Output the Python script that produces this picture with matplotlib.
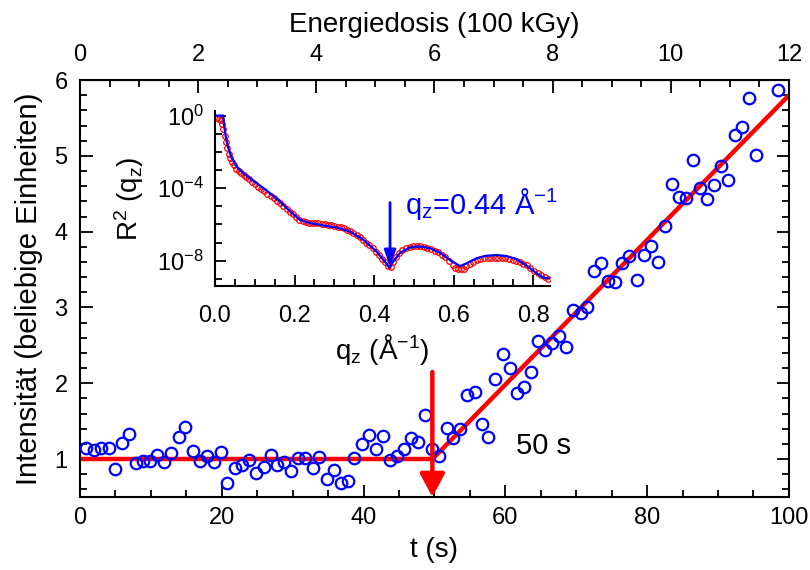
import numpy as np
import matplotlib.pyplot as plt
from matplotlib.ticker import MultipleLocator, FixedLocator, NullFormatter, LogFormatterSciNotation

plt.rcParams['font.family'] = ['Liberation Sans', 'DejaVu Sans']
plt.rcParams['mathtext.default'] = 'regular'

#%% Messdaten Intensitaet ueber Zeit
t_s = [0.85, 1.97, 2.96, 4.04, 4.94, 5.92, 6.9, 7.9, 8.9, 9.87,
       10.9, 11.9, 12.9, 13.9, 14.85, 15.9, 16.9, 17.9, 18.85, 19.85,
       20.8, 21.8, 22.85, 23.9, 24.8, 25.9, 26.9, 27.8, 28.8, 29.8,
       30.8, 31.8, 32.8, 33.75, 34.8, 35.8, 36.8, 37.75, 38.7, 39.8,
       40.7, 41.7, 42.7, 43.7, 44.7, 45.7, 46.7, 47.7, 48.7, 49.7,
       50.7, 51.7, 52.65, 53.6, 54.6, 55.7, 56.65, 57.6, 58.6, 59.7,
       60.65, 61.6, 62.6, 63.6, 64.6, 65.6, 66.6, 67.6, 68.6, 69.6,
       70.6, 71.55, 72.5, 73.5, 74.5, 75.5, 76.5, 77.5, 78.5, 79.5,
       80.5, 81.5, 82.5, 83.5, 84.5, 85.5, 86.5, 87.4, 88.4, 89.4,
       90.45, 91.4, 92.4, 93.4, 94.4, 95.4, 98.4]
intens = [1.145, 1.115, 1.145, 1.145, 0.864, 1.21, 1.326, 0.952, 0.98, 0.97,
          1.06, 0.956, 1.08, 1.287, 1.42, 1.11, 0.97, 1.04, 0.956, 1.10,
          0.68, 0.886, 0.917, 0.983, 0.815, 0.895, 1.06, 0.925, 0.956, 0.84,
          1.013, 1.013, 0.877, 1.026, 0.736, 0.86, 0.69, 0.71, 1.013, 1.2,
          1.313, 1.137, 1.30, 0.983, 1.036, 1.14, 1.275, 1.225, 1.585, 1.128,
          1.036, 1.41, 1.28, 1.40, 1.85, 1.88, 1.46, 1.29, 2.06, 2.38,
          2.20, 1.87, 1.95, 2.145, 2.555, 2.435, 2.53, 2.62, 2.48, 2.97,
          2.93, 3.0, 3.475, 3.59, 3.35, 3.33, 3.59, 3.685, 3.365, 3.69,
          3.805, 3.60, 4.08, 4.63, 4.46, 4.45, 4.94, 4.57, 4.43, 4.61,
          4.87, 4.685, 5.28, 5.385, 5.76, 5.016, 5.87]

# Fit: konstant bis zum Knick, danach linear
t_break = 49.7
I_base = 1.0
t_end = 100
I_end = 5.8
arrow_top = 2.15
dose_per_s = 0.12  # 100 kGy pro s
dose_ticks = [0, 2, 4, 6, 8, 10, 12]

#%% Reflektivitaet (Inset), log10 R^2
q_meas = [0.006, 0.010, 0.014, 0.018, 0.021, 0.024, 0.027, 0.030, 0.034, 0.038,
          0.043, 0.048, 0.054, 0.060, 0.066, 0.072, 0.078, 0.085, 0.092, 0.100,
          0.108, 0.116, 0.124, 0.132, 0.140, 0.148, 0.156, 0.164, 0.172, 0.180,
          0.188, 0.196, 0.204, 0.212, 0.220, 0.228, 0.236, 0.244, 0.252, 0.260,
          0.268, 0.276, 0.284, 0.292, 0.300, 0.308, 0.316, 0.324, 0.332, 0.340,
          0.348, 0.356, 0.364, 0.372, 0.380, 0.388, 0.396, 0.404, 0.412, 0.420,
          0.428, 0.436, 0.442, 0.448, 0.455, 0.463, 0.471, 0.480, 0.489, 0.498,
          0.507, 0.516, 0.525, 0.534, 0.543, 0.552, 0.561, 0.570, 0.579, 0.588,
          0.597, 0.604, 0.611, 0.618, 0.625, 0.632, 0.640, 0.649, 0.658, 0.667,
          0.676, 0.685, 0.694, 0.703, 0.712, 0.721, 0.730, 0.739, 0.748, 0.757,
          0.766, 0.775, 0.784, 0.793, 0.802, 0.811, 0.820, 0.829, 0.838]
logR_meas = [-0.12, -0.18, -0.25, -0.45, -0.75, -1.10, -1.45, -1.80, -2.10, -2.35,
             -2.58, -2.75, -2.92, -3.05, -3.17, -3.28, -3.38, -3.52, -3.65, -3.80,
             -3.93, -4.06, -4.18, -4.30, -4.44, -4.56, -4.70, -4.83, -4.98, -5.14,
             -5.30, -5.45, -5.60, -5.74, -5.83, -5.88, -5.91, -5.92, -5.93, -5.95,
             -5.97, -5.99, -6.01, -6.04, -6.08, -6.12, -6.17, -6.22, -6.30, -6.38,
             -6.48, -6.58, -6.72, -6.86, -7.00, -7.16, -7.32, -7.50, -7.70, -7.90,
             -8.10, -8.30, -8.35, -8.10, -7.82, -7.58, -7.42, -7.30, -7.23, -7.20,
             -7.19, -7.20, -7.23, -7.28, -7.35, -7.45, -7.55, -7.68, -7.82, -8.00,
             -8.22, -8.38, -8.46, -8.48, -8.44, -8.32, -8.18, -8.05, -7.97, -7.92,
             -7.88, -7.85, -7.84, -7.83, -7.83, -7.84, -7.86, -7.90, -7.95, -8.02,
             -8.10, -8.18, -8.26, -8.40, -8.55, -8.68, -8.80, -8.92, -9.02]

q_fit = [0.0, 0.021, 0.0226, 0.0277, 0.0335, 0.042, 0.054, 0.071, 0.096, 0.130,
         0.163, 0.189, 0.214, 0.239, 0.272, 0.306, 0.339, 0.373, 0.406, 0.427,
         0.438, 0.448, 0.465, 0.490, 0.515, 0.540, 0.565, 0.590, 0.616, 0.632,
         0.657, 0.682, 0.708, 0.733, 0.758, 0.783, 0.808, 0.825, 0.840]
logR_fit = [0.0, 0.0, -0.5, -1.24, -1.79, -2.34, -2.8, -3.17, -3.59, -4.14,
            -4.73, -5.29, -5.75, -5.93, -6.06, -6.17, -6.39, -6.85, -7.5, -8.05,
            -8.38, -8.05, -7.58, -7.27, -7.22, -7.31, -7.55, -7.96, -8.3, -8.15,
            -7.88, -7.73, -7.69, -7.75, -7.92, -8.27, -8.7, -8.94, -8.98]
q_mark = 0.44

tick_fs = 17
label_fs = 20

#%% Hauptplot
fig = plt.figure(figsize=(8.1, 5.7), dpi=100)
ax = fig.add_axes([0.0988, 0.128, 0.8752, 0.7316])

ax.plot([0, t_break], [I_base, I_base], color='red', lw=3.2, solid_capstyle='butt', zorder=2)
ax.plot([t_break, t_end], [I_base, I_end], color='red', lw=3.2, solid_capstyle='butt', zorder=2)
ax.plot(t_s, intens, 'o', mfc='none', mec='#0000ff', ms=8.3, mew=1.6, zorder=3)

ax.annotate('', xy=(t_break, 0.5), xytext=(t_break, arrow_top),
            arrowprops=dict(arrowstyle='-|>,head_length=1.4,head_width=0.75',
                            color='red', lw=3.2, shrinkA=0, shrinkB=0, mutation_scale=10),
            annotation_clip=False, zorder=4)
ax.text(61.5, 1.17, '50 s', fontsize=21, va='center', ha='left')

ax.set_xlim(0, 100)
ax.set_ylim(0.5, 6)
ax.xaxis.set_major_locator(MultipleLocator(20))
ax.xaxis.set_minor_locator(MultipleLocator(5))
ax.yaxis.set_major_locator(MultipleLocator(1))
ax.yaxis.set_minor_locator(MultipleLocator(0.2))
ax.tick_params(which='both', direction='in', right=True, top=False, width=1.3, labelsize=tick_fs)
ax.tick_params(which='major', length=9)
ax.tick_params(which='minor', length=5)
ax.tick_params(axis='y', pad=9)
ax.tick_params(axis='x', pad=7)
for sp in ax.spines.values():
    sp.set_linewidth(1.5)
ax.set_xlabel('t (s)', fontsize=label_fs, labelpad=6)
ax.set_ylabel('Intensität (beliebige Einheiten)', fontsize=21, labelpad=8)

sec = ax.secondary_xaxis('top', functions=(lambda t: t * dose_per_s, lambda d: d / dose_per_s))
sec.xaxis.set_major_locator(FixedLocator(dose_ticks))
sec.xaxis.set_minor_locator(MultipleLocator(0.5))
sec.tick_params(which='both', direction='in', width=1.3, labelsize=tick_fs, pad=10)
sec.tick_params(which='major', length=9)
sec.tick_params(which='minor', length=5)
sec.set_xlabel('Energiedosis (100 kGy)', fontsize=label_fs, labelpad=9)

#%% Inset
ins = fig.add_axes([0.2654, 0.4982, 0.4136, 0.307])
ins.patch.set_alpha(0)
ins.plot(q_meas, 10 ** np.array(logR_meas), 'o', mfc='none', mec='red', ms=4, mew=0.9)
ins.plot(q_fit, 10 ** np.array(logR_fit), '-', color='blue', lw=1.6)
ins.set_yscale('log')
ins.set_xlim(0, 0.842)
ins.set_ylim(10 ** -9.4, 10 ** 0.25)
ins.xaxis.set_major_locator(MultipleLocator(0.2))
ins.xaxis.set_minor_locator(MultipleLocator(0.05))
ins.xaxis.set_major_formatter(plt.FormatStrFormatter('%.1f'))
ins.yaxis.set_major_locator(FixedLocator([1, 1e-4, 1e-8]))
ins.yaxis.set_minor_locator(FixedLocator([1e-1, 1e-2, 1e-3, 1e-5, 1e-6, 1e-7, 1e-9]))
ins.yaxis.set_major_formatter(LogFormatterSciNotation())
ins.yaxis.set_minor_formatter(NullFormatter())
ins.spines['top'].set_visible(False)
ins.spines['right'].set_visible(False)
for sp in ('left', 'bottom'):
    ins.spines[sp].set_linewidth(1.5)
ins.tick_params(which='both', direction='in', width=1.3, labelsize=tick_fs)
ins.tick_params(which='major', length=8)
ins.tick_params(which='minor', length=5)
ins.tick_params(axis='x', pad=14)
ins.tick_params(axis='y', pad=8)
ins.set_xlabel(r'q$_z$ (Å$^{-1}$)', fontsize=label_fs, labelpad=3)
ins.set_ylabel(r'R$^2$ (q$_z$)', fontsize=label_fs, labelpad=8)

ins.annotate('', xy=(q_mark, 10 ** -8.35), xytext=(q_mark, 10 ** -4.8),
             arrowprops=dict(arrowstyle='-|>,head_length=1.0,head_width=0.35',
                             color='blue', lw=2, shrinkA=0, shrinkB=0, mutation_scale=10))
ins.text(0.477, 10 ** -4.9, r'q$_z$=0.44 Å$^{-1}$', color='blue', fontsize=21,
         va='center', ha='left')

fig.savefig('out.png', dpi=100)
